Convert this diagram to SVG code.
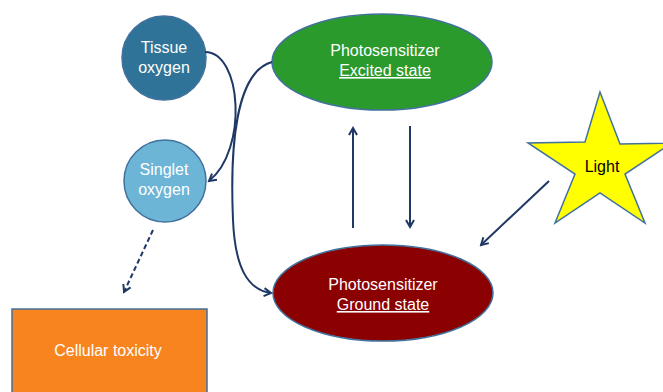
<svg xmlns="http://www.w3.org/2000/svg" width="663" height="392" viewBox="0 0 663 392">
<style>
.lbl{font-family:"Liberation Sans",Arial,sans-serif;font-size:16px;fill:#ffffff;text-anchor:middle}
.shape{stroke:#41719C;stroke-width:1.5}
.conn{fill:none;stroke:#1F3864;stroke-width:2}
</style>
<defs>
<marker id="ah" viewBox="0 0 10 10" refX="8" refY="5" markerWidth="5" markerHeight="5" orient="auto" markerUnits="strokeWidth">
<path d="M1,1 L8,5 L1,9" fill="none" stroke="#1F3864" stroke-width="2"/>
</marker>
</defs>
<rect width="663" height="392" fill="#ffffff"/>
<g id="tissue-oxygen">
<circle class="shape" cx="164" cy="58" r="42" fill="#2F7399"/>
<text class="lbl" x="164" y="53">Tissue</text>
<text class="lbl" x="164" y="73">oxygen</text>
</g>
<g id="singlet-oxygen">
<circle class="shape" cx="165" cy="181" r="41" fill="#6DB5D6"/>
<text class="lbl" x="164" y="175">Singlet</text>
<text class="lbl" x="164" y="195">oxygen</text>
</g>
<g id="excited-state">
<ellipse class="shape" cx="382" cy="62" rx="110" ry="48" fill="#2A9A2C"/>
<text class="lbl" x="385" y="56">Photosensitizer</text>
<text class="lbl" x="385" y="76" text-decoration="underline">Excited state</text>
</g>
<g id="ground-state">
<ellipse class="shape" cx="383" cy="293" rx="110" ry="48" fill="#8B0000"/>
<text class="lbl" x="383" y="290">Photosensitizer</text>
<text class="lbl" x="383" y="310" text-decoration="underline">Ground state</text>
</g>
<g id="light">
<polygon class="shape" fill="#FFFF00" points="600,92 585,142 528,143 575,174 555,223 600,193 645,223 625,174 672,143 620,144"/>
<text x="602" y="172" font-family="Liberation Sans, Arial, sans-serif" font-size="16" fill="#000000" text-anchor="middle">Light</text>
</g>
<g id="cellular-toxicity">
<rect class="shape" x="12" y="309" width="195" height="100" fill="#F7841E"/>
<text class="lbl" x="108" y="356">Cellular toxicity</text>
</g>
<g id="connectors">
<path class="conn" d="M205,52 C242,52 248,150 209,181" marker-end="url(#ah)"/>
<path class="conn" d="M272,62 C235,72 230,150 233,220 C235,268 248,290 271,293" marker-end="url(#ah)"/>
<path class="conn" d="M353,228 L353,128" marker-end="url(#ah)"/>
<path class="conn" d="M410,126 L410,227" marker-end="url(#ah)"/>
<path class="conn" d="M549,181 L481,245" marker-end="url(#ah)"/>
<path class="conn" d="M153,230 L124,292" stroke-dasharray="5,3" marker-end="url(#ah)"/>
</g>
</svg>
